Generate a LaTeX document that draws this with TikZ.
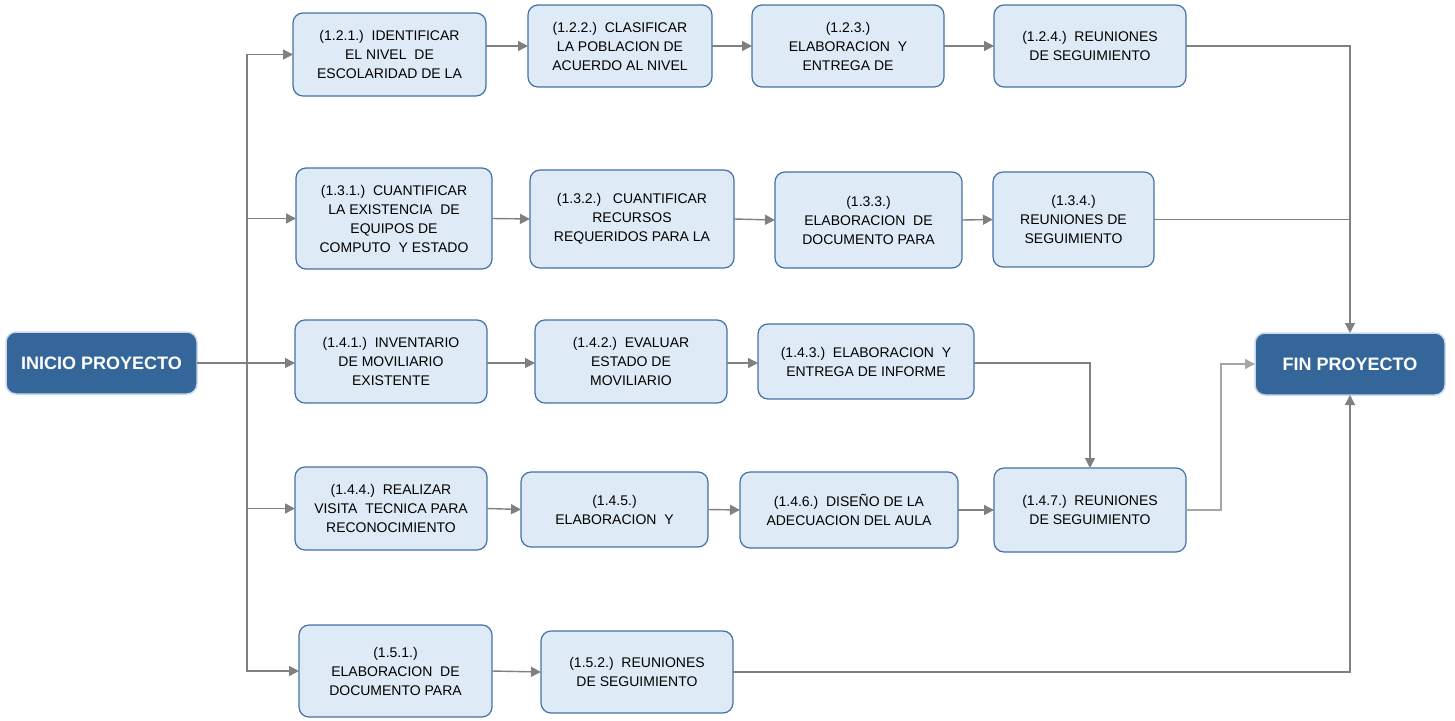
\documentclass[tikz,border=0pt]{standalone}
\usepackage{fontspec}
\setmainfont{Liberation Sans}
\usetikzlibrary{arrows.meta}
\definecolor{boxfill}{HTML}{DEEAF6}
\definecolor{boxdraw}{HTML}{4472A8}
\definecolor{darkfill}{HTML}{346699}
\definecolor{darkdraw}{HTML}{C9D7EC}
\definecolor{conncol}{HTML}{808080}
\definecolor{lightconn}{HTML}{A6A6A6}
\tikzset{
  task/.style={draw=boxdraw, line width=1.2pt, fill=boxfill, rounded corners=10pt,
    align=center, inner sep=0pt, outer sep=0pt, text=black,
    font=\fontsize{14}{19}\selectfont},
  terminal/.style={draw=darkdraw, line width=1.5pt, fill=darkfill, rounded corners=10pt,
    align=center, inner sep=0pt, outer sep=0pt, text=white,
    font=\fontsize{18}{22}\selectfont\bfseries},
  conn/.style={draw=conncol, line width=1.4pt, -{Triangle[length=10pt,width=10pt]}},
  plainline/.style={draw=conncol, line width=1.4pt},
}
\begin{document}
\begin{tikzpicture}[x=1pt,y=-1pt]
\useasboundingbox (0,0) rectangle (1455,720);
% terminals
\node[terminal, minimum width=191pt, minimum height=62pt] (ini) at (101.5,363) {INICIO PROYECTO};
\node[terminal, minimum width=190pt, minimum height=62pt] (fin) at (1350,364) {FIN PROYECTO};
% row 1.2
\node[task, minimum width=193pt, minimum height=83pt] (r121) at (389.5,54.5) {(1.2.1.)\ \ IDENTIFICAR\\EL NIVEL\ \ DE\\ESCOLARIDAD DE LA};
\node[task, minimum width=184pt, minimum height=82pt] (r122) at (620,46) {(1.2.2.)\ \ CLASIFICAR\\LA POBLACION DE\\ACUERDO AL NIVEL};
\node[task, minimum width=192pt, minimum height=82pt] (r123) at (848,46) {(1.2.3.)\\ELABORACION\ \ Y\\ENTREGA DE};
\node[task, minimum width=192pt, minimum height=82pt] (r124) at (1090,46) {(1.2.4.)\ \ REUNIONES\\DE SEGUIMIENTO};
% row 1.3
\node[task, minimum width=196pt, minimum height=101pt] (r131) at (394,218.5) {(1.3.1.)\ \ CUANTIFICAR\\LA EXISTENCIA\ \ DE\\EQUIPOS DE\\COMPUTO\ \ Y ESTADO};
\node[task, minimum width=204pt, minimum height=98pt] (r132) at (632,219) {(1.3.2.)\ \ \ CUANTIFICAR\\RECURSOS\\REQUERIDOS PARA LA};
\node[task, minimum width=187pt, minimum height=96pt] (r133) at (868.5,220) {(1.3.3.)\\ELABORACION\ \ DE\\DOCUMENTO PARA};
\node[task, minimum width=161pt, minimum height=95pt] (r134) at (1073.5,219.5) {(1.3.4.)\\REUNIONES DE\\SEGUIMIENTO};
% row 1.4 (a)
\node[task, minimum width=192pt, minimum height=83pt] (r141) at (391,361.5) {(1.4.1.)\ \ INVENTARIO\\DE MOVILIARIO\\EXISTENTE};
\node[task, minimum width=192pt, minimum height=83pt] (r142) at (631,361.5) {(1.4.2.)\ \ EVALUAR\\ESTADO DE\\MOVILIARIO};
\node[task, minimum width=216pt, minimum height=75pt] (r143) at (866,361.5) {(1.4.3.)\ \ ELABORACION\ \ Y\\ENTREGA DE INFORME};
% row 1.4 (b)
\node[task, minimum width=192pt, minimum height=83pt] (r144) at (391,508.5) {(1.4.4.)\ \ REALIZAR\\VISITA\ \ TECNICA PARA\\RECONOCIMIENTO};
\node[task, minimum width=187pt, minimum height=75pt] (r145) at (614.5,509.5) {(1.4.5.)\\ELABORACION\ \ Y};
\node[task, minimum width=218pt, minimum height=76pt] (r146) at (849,510) {(1.4.6.)\ \ DISEÑO DE LA\\ADECUACION DEL AULA};
\node[task, minimum width=192pt, minimum height=84pt] (r147) at (1090,510) {(1.4.7.)\ \ REUNIONES\\DE SEGUIMIENTO};
% row 1.5
\node[task, minimum width=193pt, minimum height=92pt] (r151) at (395.5,671) {(1.5.1.)\\ELABORACION\ \ DE\\DOCUMENTO PARA};
\node[task, minimum width=192pt, minimum height=82pt] (r152) at (637,672) {(1.5.2.)\ \ REUNIONES\\DE SEGUIMIENTO};

% trunk from INICIO
\coordinate (t) at (247,363);
\draw[plainline] (ini.east) -- (t);
\draw[conn] (t) -- (r141.west |- t);
\draw[conn] (t) |- (r121.west);
\draw[conn] (t) |- (r131.west);
\draw[conn] (t) |- (r144.west);
\draw[conn] (t) |- (r151.west);

% row 1.2
\draw[conn] (r121.east |- r122.west) -- (r122.west);
\draw[conn] (r122.east) -- (r123.west);
\draw[conn] (r123.east) -- (r124.west);
\draw[conn] (r124.east) -| (fin.north);
% row 1.3
\draw[conn] (r131.east) -- (r132.west);
\draw[conn] (r132.east) -- (r133.west);
\draw[conn] (r133.east) -- (r134.west);
\coordinate (j13) at (fin.north |- r134.east);
\draw[plainline] (r134.east) -- (j13);
% row 1.4
\draw[conn] (r141.east |- t) -- (r142.west |- t);
\draw[conn] (r142.east |- t) -- (r143.west |- t);
\draw[conn] (r143.east |- t) -| (r147.north);
\draw[conn] (r144.east) -- (r145.west);
\draw[conn] (r145.east) -- (r146.west);
\draw[conn] (r146.east) -- (r147.west);
\coordinate (j147) at (1221,510);
\draw[conn, draw=lightconn] (r147.east) -- (j147) |- (fin.west);
% row 1.5
\draw[conn] (r151.east) -- (r152.west);
\draw[conn] (r152.east) -| (fin.south);
\end{tikzpicture}
\end{document}
